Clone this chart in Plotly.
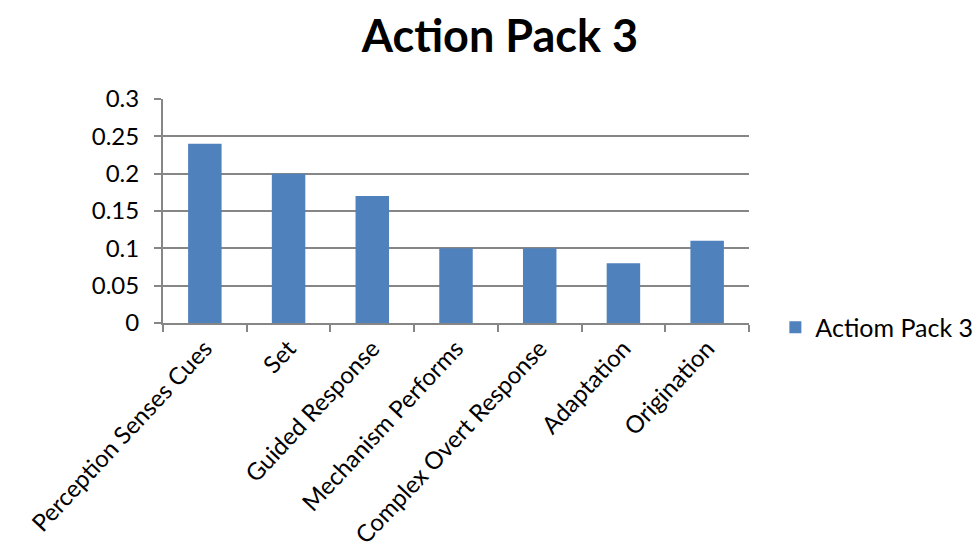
import plotly.graph_objects as go

categories = ["Perception Senses Cues", "Set", "Guided Response", "Mechanism Performs",
              "Complex Overt Response", "Adaptation", "Origination"]
values = [0.24, 0.20, 0.17, 0.10, 0.10, 0.08, 0.11]
series_name = "Actiom Pack 3"
title_text = "Action Pack 3"
y_ticks = [0, 0.05, 0.1, 0.15, 0.2, 0.25, 0.3]
y_tick_labels = ["0", "0.05", "0.1", "0.15", "0.2", "0.25", "0.3"]

FONT = "Lato"
GRID = "#868686"

fig = go.Figure()
fig.add_trace(go.Bar(x=categories, y=values, name=series_name,
                     marker=dict(color="#4F81BD", line=dict(width=0)),
                     showlegend=True))

fig.update_layout(
    width=975, height=556,
    margin=dict(l=163, r=226, t=99, b=233, autoexpand=False),
    paper_bgcolor="white", plot_bgcolor="white",
    font=dict(family=FONT, size=24, color="#000000"),
    title=dict(text="<b>" + title_text + "</b>", x=0.575, xref="paper", xanchor="center",
               y=0.935, yref="container", yanchor="middle",
               font=dict(family=FONT, size=45, color="#000000")),
    bargap=0.6,
    showlegend=True,
    legend=dict(x=1.045, xanchor="left", y=-0.02, yanchor="middle",
                font=dict(family=FONT, size=25), itemwidth=30,
                bgcolor="rgba(0,0,0,0)", tracegroupgap=0),
)
fig.update_xaxes(
    type="category", tickangle=-47, tickson="boundaries",
    ticks="outside", ticklen=7, tickwidth=2, tickcolor=GRID,
    showline=True, linecolor=GRID, linewidth=2,
    showgrid=False, tickfont=dict(family=FONT, size=24),
)
fig.update_yaxes(
    range=[0, 0.3], tickvals=y_ticks, ticktext=y_tick_labels,
    ticks="outside", ticklen=7, tickwidth=2, tickcolor=GRID,
    showline=True, linecolor=GRID, linewidth=2,
    showgrid=True, gridcolor=GRID, gridwidth=2, zeroline=False,
    tickfont=dict(family=FONT, size=24), ticklabelstandoff=10,
)

fig.write_html("out.html")
